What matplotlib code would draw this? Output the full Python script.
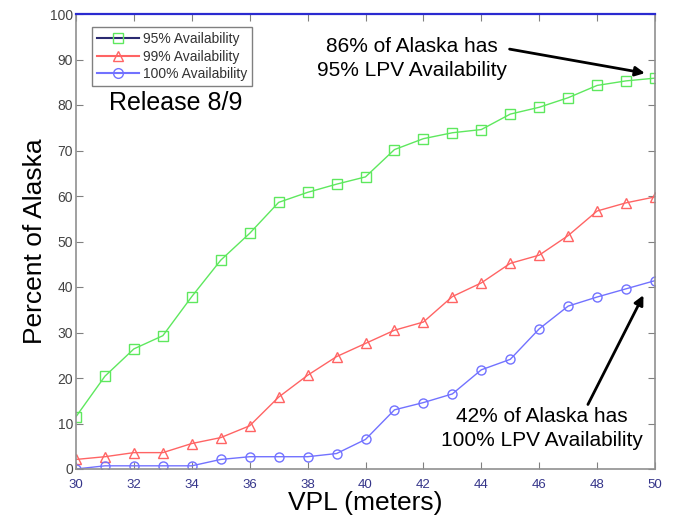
import numpy as np
import matplotlib
matplotlib.use('Agg')
import matplotlib.pyplot as plt
from matplotlib.lines import Line2D

plt.rcParams['font.family'] = ['Liberation Sans', 'DejaVu Sans']

# VPL thresholds (meters) and coverage (% of Alaska)
vpl = [30, 31, 32, 33, 34, 35, 36, 37, 38, 39, 40,
       41, 42, 43, 44, 45, 46, 47, 48, 49, 50]
avail_95 = [11.5, 20.4, 26.4, 29.3, 37.9, 45.9, 51.8, 58.6, 60.8, 62.6, 64.2,
            70.2, 72.6, 73.9, 74.6, 78.0, 79.5, 81.6, 84.3, 85.3, 85.9]
avail_99 = [2.1, 2.7, 3.6, 3.6, 5.6, 6.9, 9.5, 15.8, 20.6, 24.7, 27.6,
            30.5, 32.3, 37.9, 40.9, 45.2, 47.0, 51.3, 56.7, 58.5, 59.8]
avail_100 = [0.0, 0.7, 0.7, 0.7, 0.7, 2.1, 2.7, 2.7, 2.7, 3.4, 6.5,
             13.0, 14.6, 16.5, 21.8, 24.1, 30.8, 35.8, 37.8, 39.6, 41.4]
series_labels = ['95% Availability', '99% Availability', '100% Availability']

green = '#5ee85e'
red = '#ff6464'
blue = '#7272ff'

fig = plt.figure(figsize=(6.73, 5.23), dpi=100)
ax = fig.add_axes([76 / 673, 54 / 523, 579 / 673, 455 / 523])

mk = dict(markerfacecolor='none', markersize=6.5, markeredgewidth=1.0, linewidth=1.0)
ax.plot(vpl, avail_95, '-s', color=green, **mk)
ax.plot(vpl, avail_99, '-^', color=red, **mk)
ax.plot(vpl, avail_100, '-o', color=blue, **mk)

ax.set_xlim(30, 50)
ax.set_ylim(0, 100)
ax.set_xticks(np.arange(30, 51, 2))
ax.set_yticks(np.arange(0, 101, 10))
ax.tick_params(direction='in', length=5, top=True, right=True, width=0.8, color='#808080')
ax.tick_params(axis='x', labelsize=9.5, labelcolor='#35358a', pad=7)
ax.tick_params(axis='y', labelsize=10, labelcolor='#444444', pad=2)
for s in ['left', 'right', 'bottom']:
    ax.spines[s].set_color('#909090')
    ax.spines[s].set_linewidth(1.2)
ax.spines['top'].set_color('#2a2ad0')
ax.spines['top'].set_linewidth(1.6)

ax.set_xlabel('VPL (meters)', fontsize=19, labelpad=0)
ax.set_ylabel('Percent of Alaska', fontsize=19, labelpad=2)

handles = [
    Line2D([], [], color='#2a2a70', marker='s', markeredgecolor=green, markerfacecolor='none', markersize=7),
    Line2D([], [], color=red, marker='^', markerfacecolor='none', markersize=7),
    Line2D([], [], color=blue, marker='o', markerfacecolor='none', markersize=7),
]
leg = ax.legend(handles, series_labels, loc='upper left', bbox_to_anchor=(0.028, 0.971),
                borderaxespad=0, fontsize=10, handlelength=3, handletextpad=0.3,
                labelspacing=0.25, fancybox=False, framealpha=1, borderpad=0.35)
leg.get_frame().set_edgecolor('#808080')
for t in leg.get_texts():
    t.set_color('#333333')

ax.text(33.45, 80.5, 'Release 8/9', fontsize=18, ha='center', va='center')

ax.annotate('86% of Alaska has\n95% LPV Availability', xy=(49.65, 87.0), xytext=(41.6, 90.3),
            fontsize=15, ha='center', va='center', linespacing=1.35,
            arrowprops=dict(arrowstyle='-|>', color='black', lw=2, mutation_scale=14,
                            shrinkA=0, shrinkB=0, relpos=(1.0, 0.72)))
ax.annotate('42% of Alaska has\n100% LPV Availability', xy=(49.6, 38.2), xytext=(46.1, 8.9),
            fontsize=15, ha='center', va='center', linespacing=1.3,
            arrowprops=dict(arrowstyle='-|>', color='black', lw=2, mutation_scale=14,
                            shrinkA=0, shrinkB=0, relpos=(0.72, 1.0)))

fig.savefig('out.png', dpi=100)
plt.close(fig)
